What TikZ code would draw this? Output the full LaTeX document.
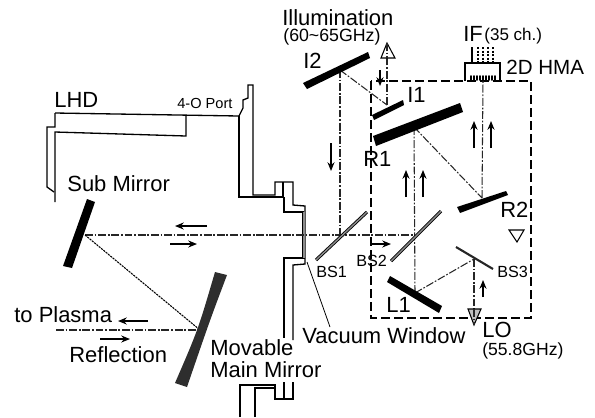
\documentclass[tikz,border=0pt]{standalone}
\usepackage{fontspec}
\setmainfont{Liberation Sans}
\usetikzlibrary{arrows.meta}
\tikzset{
  big/.style={inner sep=0pt,anchor=base west,font=\fontsize{12.5}{14}\selectfont},
  small/.style={inner sep=0pt,anchor=base west,font=\fontsize{8.3}{10}\selectfont},
  mid/.style={inner sep=0pt,anchor=base west,font=\fontsize{9.2}{11}\selectfont},
  wall/.style={black,line width=0.75pt,line join=miter},
  beam/.style={black!85,line width=0.6pt,dash pattern=on 4.5pt off 1pt on 1pt off 1pt},
  fine/.style={black,line width=0.6pt,dash pattern=on 1.2pt off 0.5pt},
  flow/.style={black,line width=0.7pt,-{Stealth[length=5pt,width=4pt]}},
  splitter/.style={black,double=black!45,line width=0.5pt,double distance=0.8pt},
  mirror/.style={fill=black,draw=none}
}
\begin{document}
\begin{tikzpicture}[x=0.02cm,y=-0.02cm]
\useasboundingbox (0,0) rectangle (595,417);
% vessel
\draw [wall] (55,113) -- (55,127) -- (47,127) -- (47,187) -- (54,192);
\draw [wall] (55,202) -- (55,132) -- (186,136) -- (186,115);
\draw [wall] (55,113) -- (239,116) -- (243,108) -- (243,100) -- (248,98) -- (248,85) -- (253,85) -- (253,195) -- (275,195) -- (275,182) -- (293,182) -- (293,205) -- (305,206) -- (305,264) -- (293,265) -- (293,340);
\draw [wall] (239,116) -- (239,197) -- (283,197) -- (283,182);
\draw [wall] (284,197) -- (284,212) -- (303,212) -- (303,258);
\draw [wall] (305,258) -- (284,258) -- (284,338);
\draw [wall] (240,417) -- (240,385) -- (275,385) -- (275,399) -- (293,399) -- (293,382);
\draw [wall] (255,417) -- (255,388) -- (275,388);
\draw [wall] (284,382) -- (284,399);
\draw [black!45,line width=0.8pt] (304,212) -- (304,258);
\draw [black,line width=0.45pt] (307,262) -- (330,327);
% box
\draw [black,line width=0.8pt,dash pattern=on 5pt off 2.4pt] (371,81) rectangle (531,318);
% beam points
\coordinate (sub) at (85,235);
\coordinate (main) at (200,330);
\coordinate (plasma) at (56,330);
\coordinate (bsone) at (340,235);
\coordinate (bstwo) at (415,235);
\coordinate (itwo) at (340,70);
\coordinate (ione) at (387,105);
\coordinate (illum) at (387,50);
\coordinate (rone) at (414,127);
\coordinate (rtwo) at (482,198);
\coordinate (hma) at (483,81);
\coordinate (lone) at (415,293);
\coordinate (bsthree) at (474,259);
\coordinate (lo) at (474,318);
\draw [beam] (sub) -- (bstwo);
\draw [beam] (plasma) -- (main);
\draw [fine] (sub) -- (main);
\draw [beam] (itwo) -- (bsone);
\draw [beam] (itwo) -- (ione);
\draw [beam] (ione) -- (illum);
\draw [beam] (rone) -- (lone);
\draw [beam] (rone) -- (rtwo);
\draw [beam] (rtwo) -- (hma);
\draw [beam] (lone) -- (bsthree);
\draw [beam] (bsthree) -- (lo);
% mirrors
\fill [mirror] (87,199) -- (95,202) -- (72,268) -- (63,266) -- cycle;
\fill [fill=black!82] (215,272) -- (227,275) .. controls (210,320) .. (187,387) -- (175,383) .. controls (198,330) .. cycle;
\fill [mirror] (303,83) -- (368,52) -- (370,58) -- (307,89) -- cycle;
\fill [mirror] (372,115) -- (403,100) -- (404,105) -- (374,120) -- cycle;
\fill [mirror] (373,136) -- (460,103) -- (463,112) -- (376,146) -- cycle;
\fill [mirror] (457,207) -- (506,191) -- (508,195) -- (460,213) -- cycle;
\fill [mirror] (390,276) -- (442,306) -- (439,313) -- (387,282) -- cycle;
\draw [splitter] (316,260) -- (367,212);
\draw [splitter] (391,261) -- (441,211);
\draw [black!85,line width=1.2pt] (456,247) -- (493,269);
% detector
\draw [black,line width=0.8pt] (465,81) -- (465,63) -- (500,63) -- (500,81);
\draw [black,line width=0.7pt] (472,47) -- (472,62);
\foreach \x in {478,483,488,493}
  \draw [black,line width=0.6pt,dash pattern=on 1.2pt off 0.8pt] (\x,47) -- (\x,62);
\foreach \x in {471,474,...,495}
  \draw [black,line width=1.1pt,line cap=round] (\x,76) -- (\x,80);
% triangles
\draw [black,line width=0.6pt,fill=white] (381,58) -- (395,58) -- (387,43) -- cycle;
\draw [beam] (387,43) -- (387,58);
\draw [black,line width=0.6pt,fill=black!25] (468,309) -- (481,309) -- (474,325) -- cycle;
\draw [beam] (474,309) -- (474,325);
\draw [black,line width=0.6pt] (509,230) -- (524,230) -- (517,242) -- cycle;
% arrows
\draw [flow] (207,226) -- (175,226);
\draw [flow] (170,244) -- (197,244);
\draw [flow] (148,321) -- (118,321);
\draw [flow] (100,339) -- (130,339);
\draw [flow] (331,143) -- (331,171);
\draw [flow] (380,70) -- (380,86);
\draw [flow] (474,148) -- (474,121);
\draw [flow] (491,148) -- (491,121);
\draw [flow] (406,197) -- (406,170);
\draw [flow] (423,197) -- (423,170);
\draw [flow] (483,297) -- (483,280);
\draw [flow] (371,244) -- (391,244);
% labels
\node [big] (illumination) at (282,25) {Illumination};
\node [mid,font=\fontsize{10.1}{12}\selectfont] (illumfreq) at (283,41) {(60\textasciitilde 65GHz)};
\node [big] (labeltwo) at (303,68) {I2};
\node [big] (labelone) at (407,102) {I1};
\node [big] (labelif) at (463,41) {IF};
\node [mid,font=\fontsize{9.7}{11}\selectfont] (channels) at (484,40) {(35 ch.)};
\node [big,font=\fontsize{11.7}{14}\selectfont] (labelhma) at (506,74) {2D HMA};
\node [big] (labelrone) at (363,166) {R1};
\node [big] (labelrtwo) at (500,217) {R2};
\node [big] (labellone) at (386,312) {L1};
\node [big] (labello) at (482,337) {LO};
\node [mid,font=\fontsize{10}{12}\selectfont] (lofreq) at (482,355) {(55.8GHz)};
\node [mid] (labelbsone) at (316,277) {BS1};
\node [mid] (labelbstwo) at (356,266) {BS2};
\node [mid] (labelbsthree) at (497,277) {BS3};
\node [big] (window) at (302,343) {Vacuum Window};
\node [big] (movable) at (210,355) {Movable};
\node [big] (mainmirror) at (210,377) {Main Mirror};
\node [big] (reflection) at (69,362) {Reflection};
\node [big] (toplasma) at (14,322) {to Plasma};
\node [big] (submirror) at (67,191) {Sub Mirror};
\node [big] (lhd) at (54,107) {LHD};
\node [small] (port) at (177,108) {4-O Port};
\end{tikzpicture}
\end{document}
